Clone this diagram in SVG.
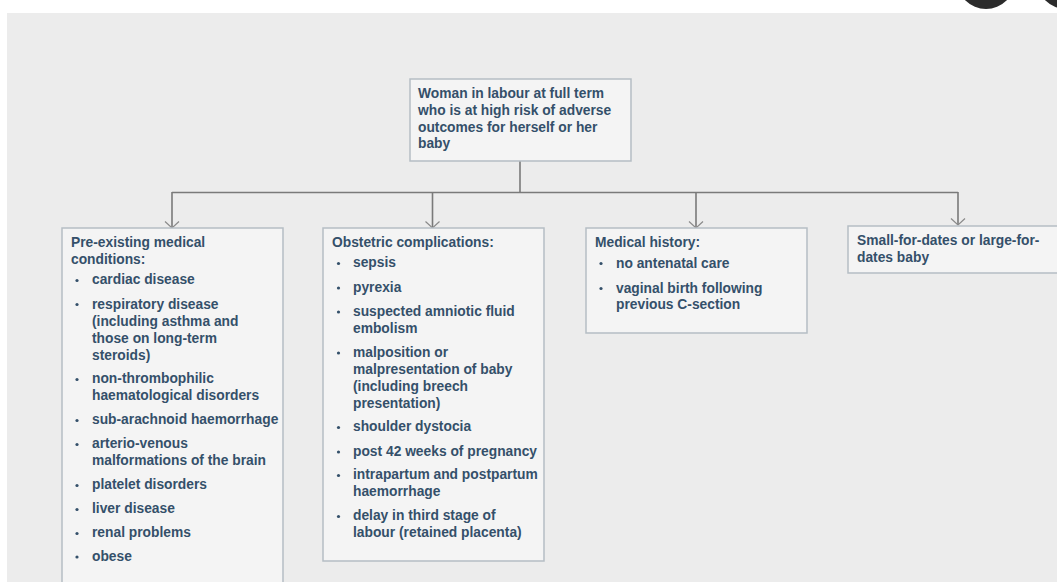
<svg xmlns="http://www.w3.org/2000/svg" width="1057" height="582" viewBox="0 0 1057 582">
<style>
.box{fill:#f4f4f4;stroke:#b5bdc4;stroke-width:1.5}
.t{font-family:"Liberation Sans",Arial,sans-serif;font-weight:bold;font-size:13.8px;fill:#34506a}
.b{fill:#34506a}
.c{fill:none;stroke:#7a7a7a;stroke-width:1.6}
</style>
<defs>
<marker id="arr" viewBox="-8 -8 16 16" refX="0" refY="0" markerWidth="16" markerHeight="16" markerUnits="userSpaceOnUse" orient="auto">
<path d="M-6.5,-7 L0,0 L-6.5,7" fill="none" stroke="#8a8a8a" stroke-width="1.2"/>
</marker>
</defs>
<rect x="0" y="0" width="1057" height="582" fill="#ffffff"/>
<rect x="7" y="13" width="1050" height="569" fill="#ececec"/>
<circle cx="986" cy="-20" r="29" fill="#2b2b2b"/>
<circle cx="1066" cy="-20" r="29" fill="#2b2b2b"/>

<g id="connectors">
<line class="c" x1="520" y1="161" x2="520" y2="192.5"/>
<line class="c" x1="172" y1="192.5" x2="958" y2="192.5" stroke-width="2"/>
<line class="c" x1="172" y1="192" x2="172" y2="228" marker-end="url(#arr)"/>
<line class="c" x1="432.5" y1="192" x2="432.5" y2="228" marker-end="url(#arr)"/>
<line class="c" x1="696" y1="192" x2="696" y2="228" marker-end="url(#arr)"/>
<line class="c" x1="958" y1="192" x2="958" y2="225" marker-end="url(#arr)"/>
</g>

<g id="root">
<rect class="box" x="410" y="79" width="221" height="82"/>
<text class="t" x="418" y="98">Woman in labour at full term</text>
<text class="t" x="418" y="115">who is at high risk of adverse</text>
<text class="t" x="418" y="131.5">outcomes for herself or her</text>
<text class="t" x="418" y="148">baby</text>
</g>

<g id="pre-existing">
<rect class="box" x="62" y="228" width="221" height="400"/>
<text class="t" x="71" y="247">Pre-existing medical</text>
<text class="t" x="71" y="264">conditions:</text>
<g class="b">
<circle cx="77" cy="280.5" r="1.6"/>
<circle cx="77" cy="304.5" r="1.6"/>
<circle cx="77" cy="379.5" r="1.6"/>
<circle cx="77" cy="420.5" r="1.6"/>
<circle cx="77" cy="444.5" r="1.6"/>
<circle cx="77" cy="485.5" r="1.6"/>
<circle cx="77" cy="509.5" r="1.6"/>
<circle cx="77" cy="533.5" r="1.6"/>
<circle cx="77" cy="557" r="1.6"/>
</g>
<text class="t" x="92" y="284">cardiac disease</text>
<text class="t" x="92" y="308.5">respiratory disease</text>
<text class="t" x="92" y="325.5">(including asthma and</text>
<text class="t" x="92" y="342.5">those on long-term</text>
<text class="t" x="92" y="359.5">steroids)</text>
<text class="t" x="92" y="383">non-thrombophilic</text>
<text class="t" x="92" y="400">haematological disorders</text>
<text class="t" x="92" y="424">sub-arachnoid haemorrhage</text>
<text class="t" x="92" y="448">arterio-venous</text>
<text class="t" x="92" y="465">malformations of the brain</text>
<text class="t" x="92" y="489">platelet disorders</text>
<text class="t" x="92" y="512.5">liver disease</text>
<text class="t" x="92" y="537">renal problems</text>
<text class="t" x="92" y="560.5">obese</text>
</g>

<g id="obstetric">
<rect class="box" x="323" y="228" width="221" height="333"/>
<text class="t" x="332" y="247">Obstetric complications:</text>
<g class="b">
<circle cx="338.5" cy="263.5" r="1.6"/>
<circle cx="338.5" cy="288" r="1.6"/>
<circle cx="338.5" cy="312" r="1.6"/>
<circle cx="338.5" cy="353" r="1.6"/>
<circle cx="338.5" cy="427.5" r="1.6"/>
<circle cx="338.5" cy="452" r="1.6"/>
<circle cx="338.5" cy="475.5" r="1.6"/>
<circle cx="338.5" cy="516.5" r="1.6"/>
</g>
<text class="t" x="353" y="267">sepsis</text>
<text class="t" x="353" y="291.5">pyrexia</text>
<text class="t" x="353" y="315.5">suspected amniotic fluid</text>
<text class="t" x="353" y="332.5">embolism</text>
<text class="t" x="353" y="356.5">malposition or</text>
<text class="t" x="353" y="373.5">malpresentation of baby</text>
<text class="t" x="353" y="390.5">(including breech</text>
<text class="t" x="353" y="407.5">presentation)</text>
<text class="t" x="353" y="431">shoulder dystocia</text>
<text class="t" x="353" y="455.5">post 42 weeks of pregnancy</text>
<text class="t" x="353" y="479">intrapartum and postpartum</text>
<text class="t" x="353" y="496">haemorrhage</text>
<text class="t" x="353" y="520">delay in third stage of</text>
<text class="t" x="353" y="537">labour (retained placenta)</text>
</g>

<g id="medical-history">
<rect class="box" x="586" y="228" width="221" height="105"/>
<text class="t" x="595" y="247">Medical history:</text>
<g class="b">
<circle cx="601" cy="263.5" r="1.6"/>
<circle cx="601" cy="288.5" r="1.6"/>
</g>
<text class="t" x="616" y="267.5">no antenatal care</text>
<text class="t" x="616" y="292.5">vaginal birth following</text>
<text class="t" x="616" y="309">previous C-section</text>
</g>

<g id="baby-size">
<rect class="box" x="848" y="226" width="230" height="47"/>
<text class="t" x="857" y="245">Small-for-dates or large-for-</text>
<text class="t" x="857" y="261.5">dates baby</text>
</g>
</svg>
